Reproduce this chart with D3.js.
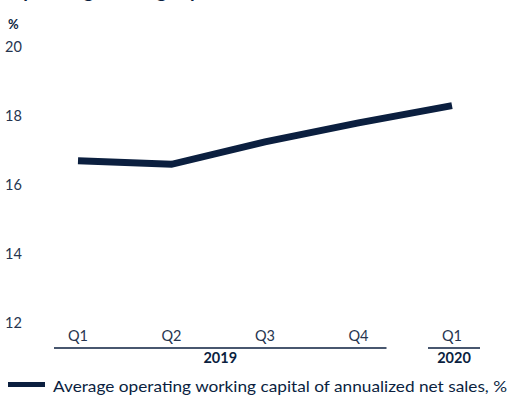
<!DOCTYPE html>
<html>
<head>
<meta charset="utf-8">
<script src="https://cdn.jsdelivr.net/npm/d3@7"></script>
<style>
  body { margin: 0; background: #fff; }
  svg { display: block; font-family: Lato, "Open Sans", sans-serif; }
</style>
</head>
<body>
<div id="chart"></div>
<script>
// data
const quarters = ["Q1", "Q2", "Q3", "Q4", "Q1"];
const years = [{ label: "2019", from: 0, to: 3 }, { label: "2020", from: 4, to: 4 }];
const values = [16.7, 16.6, 17.25, 17.8, 18.3];
const yTicks = [12, 14, 16, 18, 20];
const title = "Operating working capital";
const seriesName = "Average operating working capital of annualized net sales, %";

const width = 510, height = 398,
  navy = "#0b1f3f",
  tickColor = "#26354f";

const svg = d3.select("#chart").append("svg")
  .attr("width", width)
  .attr("height", height);

// title is cut off at the top edge in the original, only descenders show
svg.append("text")
  .attr("x", 8).attr("y", -2)
  .text(title)
  .style("font-size", "19px").style("font-weight", "bold")
  .attr("fill", navy);

const x = d3.scalePoint().domain(d3.range(quarters.length)).range([78, 452]);
const y = d3.scaleLinear().domain([12, 20]).range([323, 47]);

// y axis labels
svg.append("text")
  .attr("x", 8).attr("y", 29)
  .text("%")
  .style("font-size", "13px").style("font-weight", "bold")
  .attr("fill", navy);

svg.append("g").selectAll("text")
  .data(yTicks)
  .enter().append("text")
  .attr("x", 5)
  .attr("y", d => y(d))
  .attr("dy", "0.35em")
  .text(d => d)
  .style("font-size", "14.5px")
  .attr("fill", tickColor);

// quarter labels
svg.append("g").selectAll("text")
  .data(quarters)
  .enter().append("text")
  .attr("x", (d, i) => x(i))
  .attr("y", 341)
  .attr("text-anchor", "middle")
  .text(d => d)
  .style("font-size", "14.5px")
  .attr("fill", tickColor);

// year groups
const yg = svg.append("g").selectAll("g").data(years).enter().append("g");
yg.append("line")
  .attr("x1", d => x(d.from) - 24)
  .attr("x2", d => x(d.to) + 28)
  .attr("y1", 348).attr("y2", 348)
  .attr("stroke", navy).attr("stroke-width", 1.5);
yg.append("text")
  .attr("x", d => (x(d.from) + x(d.to)) / 2 + 2)
  .attr("y", 363)
  .attr("text-anchor", "middle")
  .text(d => d.label)
  .style("font-size", "14.5px").style("font-weight", "bold")
  .attr("fill", navy);

// line
const line = d3.line().x((d, i) => x(i)).y(d => y(d));
svg.append("path")
  .datum(values)
  .attr("d", line)
  .attr("fill", "none")
  .attr("stroke", navy)
  .attr("stroke-width", 7);

// legend
svg.append("rect")
  .attr("x", 8).attr("y", 382)
  .attr("width", 37).attr("height", 5)
  .attr("fill", navy);
svg.append("text")
  .attr("x", 53).attr("y", 392)
  .text(seriesName)
  .attr("textLength", 454)
  .attr("lengthAdjust", "spacingAndGlyphs")
  .style("font-size", "16px")
  .attr("fill", navy);
</script>
</body>
</html>
